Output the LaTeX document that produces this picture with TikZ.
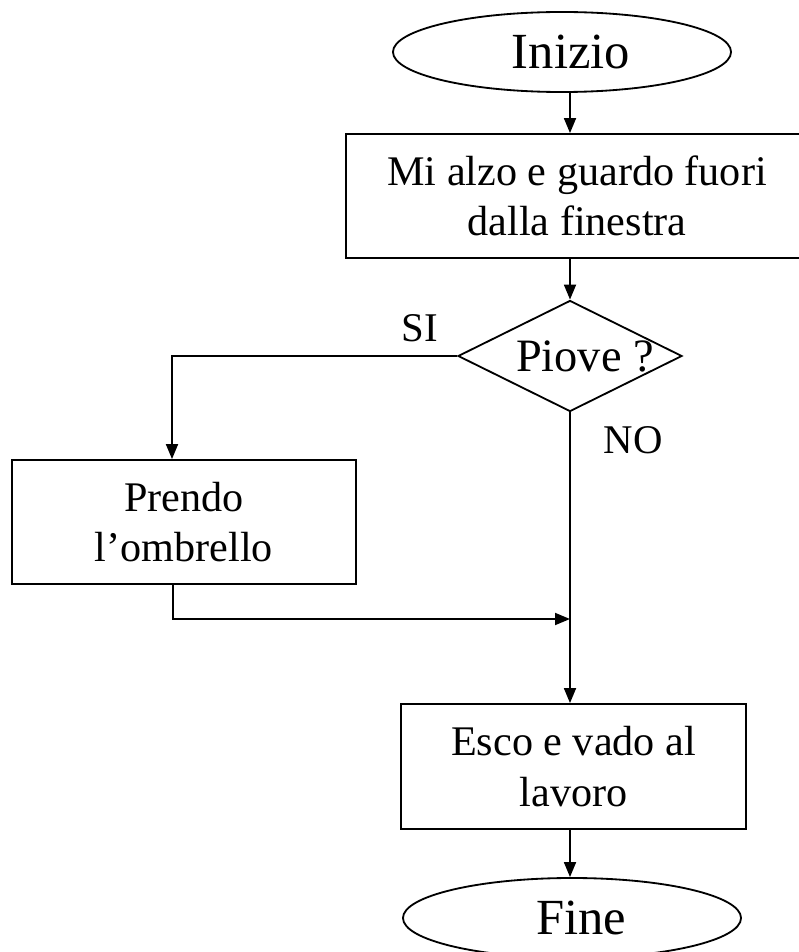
\documentclass[tikz,border=0pt]{standalone}
\usepackage{fontspec}
\setmainfont{Liberation Serif}
\usetikzlibrary{shapes.geometric, arrows.meta}

\begin{document}
\begin{tikzpicture}[x = 0.025cm, y = -0.025cm, line width = 1.3pt,
  terminale/.style = {draw, ellipse, inner sep = 0pt, minimum width = 8.45cm, minimum height = 2cm, font = \fontsize{36}{43}\selectfont},
  azione/.style = {draw, rectangle, align = center, inner sep = 0pt, minimum height = 3.1cm, font = \fontsize{30}{36}\selectfont},
  scelta/.style = {draw, diamond, aspect = 2, inner sep = 0pt, minimum width = 5.6cm, minimum height = 2.775cm, font = \fontsize{33}{40}\selectfont},
  etichetta/.style = {inner sep = 0pt, font = \fontsize{29}{35}\selectfont},
  freccia/.style = {-{Triangle[length = 0.375cm, width = 0.3cm]}}]

  \useasboundingbox (0,0) rectangle (799,952);

  \node[terminale] (inizio) at (562,52) {\hspace*{0.45cm}Inizio};
  \node[azione, minimum width = 11.55cm] (frase) at (577,196) {Mi alzo e guardo fuori\\dalla finestra};
  \node[scelta] (piove) at (570,356) {\makebox[0pt]{\hspace*{0.75cm}Piove ?}};
  \node[azione, minimum width = 8.6cm] (ombrello) at (184,522) {Prendo\\l'ombrello};
  \node[azione, minimum width = 8.625cm, minimum height = 3.125cm] (lavoro) at (573.5,766.5) {Esco e vado al\\lavoro};
  \node[terminale] (fine) at (572,918) {\hspace*{0.45cm}Fine};
  \node[etichetta] (si) at (420,328) {SI};
  \node[etichetta] (no) at (633,440) {NO};

  \coordinate (asse) at (570,0);
  \coordinate (gomito) at (172,356);
  \coordinate (ritorno) at (173,619);
  \coordinate (unione) at (570,619);

  \draw[freccia] (inizio.south -| asse) -- (frase.north -| asse);
  \draw[freccia] (frase.south -| asse) -- (piove.north);
  \draw[freccia] (piove.west) -- (gomito) -- (gomito |- ombrello.north);
  \draw[freccia] (ritorno |- ombrello.south) -- (ritorno) -- (unione);
  \draw[freccia] (piove.south) -- (lavoro.north -| asse);
  \draw[freccia] (lavoro.south -| asse) -- (fine.north -| asse);
  %\draw (piove.east) -- (frase.south east);
\end{tikzpicture}
\end{document}
